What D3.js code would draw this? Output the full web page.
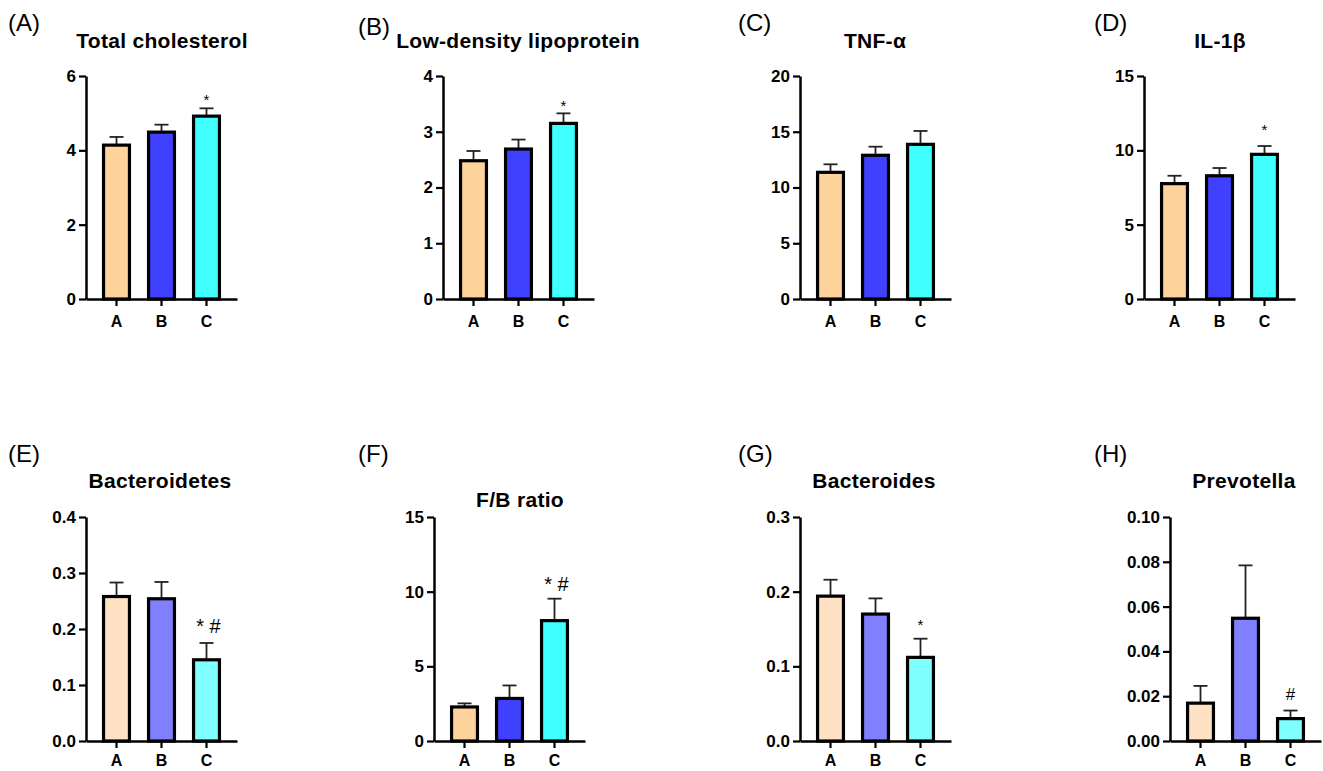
<!DOCTYPE html>
<html>
<head>
<meta charset="utf-8">
<script src="https://d3js.org/d3.v7.min.js"></script>
<style>
  body { margin: 0; background: #fff; }
  text { font-family: "Liberation Sans", Arial, sans-serif; fill: #000; }
</style>
</head>
<body>
<div id="chart"></div>
<script>

// groups and panel labels
var groups = ["A", "B", "C"];
var letters = ["(A)", "(B)", "(C)", "(D)", "(E)", "(F)", "(G)", "(H)"];
var titles = ["Total cholesterol", "Low-density lipoprotein", "TNF-\u03b1", "IL-1\u03b2",
              "Bacteroidetes", "F/B ratio", "Bacteroides", "Prevotella"];

// y axes
var yMax = [6, 4, 20, 15, 0.4, 15, 0.3, 0.1];
var yTicks = [
  [0, 2, 4, 6],
  [0, 1, 2, 3, 4],
  [0, 5, 10, 15, 20],
  [0, 5, 10, 15],
  [0, 0.1, 0.2, 0.3, 0.4],
  [0, 5, 10, 15],
  [0, 0.1, 0.2, 0.3],
  [0, 0.02, 0.04, 0.06, 0.08, 0.10]
];
var yFormat = ["d", "d", "d", "d", ".1f", "d", ".1f", ".2f"];

// bar means and error (SEM, drawn upwards)
var means = [
  [4.14, 4.49, 4.92],
  [2.48, 2.69, 3.15],
  [11.36, 12.89, 13.87],
  [7.76, 8.29, 9.73],
  [0.258, 0.254, 0.145],
  [2.28, 2.85, 8.06],
  [0.194, 0.170, 0.112],
  [0.0169, 0.0548, 0.0100]
];
var sems = [
  [0.22, 0.20, 0.21],
  [0.175, 0.17, 0.18],
  [0.72, 0.77, 1.20],
  [0.53, 0.52, 0.56],
  [0.025, 0.030, 0.030],
  [0.24, 0.87, 1.47],
  [0.022, 0.021, 0.025],
  [0.0077, 0.0236, 0.0036]
];

// significance marks over group C
var marks = ["*", "*", "", "*", "* #", "* #", "*", "#"];
var markAt = [5.46, 3.54, 0, 11.64, 0.205, 10.51, 0.161, 0.0209];

var darkColors = ["#FFD39C", "#4040FF", "#40FFFF"];
var lightColors = ["#FFE1C4", "#8080FF", "#80FFFF"];
var usesLight = [false, false, false, false, true, false, true, true];

// layout of the 2x4 grid
var axisX = [86, 443, 800, 1144, 86, 434, 800, 1170];
var rowTop = [76, 517], rowZero = [299, 741], rowPad = [10, 7];
var titleX = [162, 518, 875, 1220, 160, 520, 874, 1244];
var titleY = [48, 48, 48, 48, 488, 507, 488, 488];
var letterX = [8, 358, 738, 1094, 8, 358, 738, 1094];
var letterY = [31, 35, 31, 31, 462, 462, 462, 462];
var axisLen = 151;

var svg = d3.select("#chart").append("svg")
    .attr("width", 1323)
    .attr("height", 771);

titles.forEach(function(title, p) {
  var row = p < 4 ? 0 : 1;
  var g = svg.append("g")
      .attr("transform", "translate(" + axisX[p] + ",0)");

  var x = d3.scaleBand()
      .domain(groups)
      .range([0, axisLen])
      .paddingInner(0.38)
      .paddingOuter(0.368);

  var y = d3.scaleLinear()
      .domain([0, yMax[p]])
      .range([rowZero[row], rowTop[row]]);

  var colors = usesLight[p] ? lightColors : darkColors;
  var data = groups.map(function(k, i) {
    return { key: k, mean: means[p][i], sem: sems[p][i], color: colors[i] };
  });

  // error bars first, bars drawn over their lower part
  var eb = g.append("g").selectAll("g")
      .data(data)
    .enter().append("g");
  eb.append("line")
      .attr("x1", function(d) { return x(d.key) + x.bandwidth() / 2; })
      .attr("x2", function(d) { return x(d.key) + x.bandwidth() / 2; })
      .attr("y1", function(d) { return y(d.mean); })
      .attr("y2", function(d) { return y(d.mean + d.sem); })
      .attr("stroke", "#222")
      .attr("stroke-width", 1.8);
  eb.append("line")
      .attr("x1", function(d) { return x(d.key) + x.bandwidth() / 2 - 7; })
      .attr("x2", function(d) { return x(d.key) + x.bandwidth() / 2 + 7; })
      .attr("y1", function(d) { return y(d.mean + d.sem); })
      .attr("y2", function(d) { return y(d.mean + d.sem); })
      .attr("stroke", "#222")
      .attr("stroke-width", 1.8);

  g.append("g").selectAll("rect")
      .data(data)
    .enter().append("rect")
      .attr("x", function(d) { return x(d.key) + 1; })
      .attr("width", x.bandwidth() - 2)
      .attr("y", function(d) { return y(d.mean); })
      .attr("height", function(d) { return y(0) - y(d.mean); })
      .attr("fill", function(d) { return d.color; })
      .attr("stroke", "#000")
      .attr("stroke-width", 3.2);

  // y axis
  var yAxis = g.append("g")
      .call(d3.axisLeft(y).tickValues(yTicks[p]).tickFormat(d3.format(yFormat[p]))
            .tickSize(7).tickSizeOuter(0).tickPadding(3));
  // x axis
  var xAxis = g.append("g")
      .attr("transform", "translate(0," + rowZero[row] + ")")
      .call(d3.axisBottom(x).tickSize(7).tickSizeOuter(0).tickPadding(rowPad[row]));

  [yAxis, xAxis].forEach(function(a) {
    a.select(".domain").attr("stroke", "#000").attr("stroke-width", 2.5);
    a.selectAll(".tick line").attr("stroke", "#000").attr("stroke-width", 2.2);
    a.selectAll(".tick text")
        .style("font-family", "'Liberation Sans', Arial, sans-serif")
        .style("font-weight", "bold")
        .style("font-size", "16px")
        .attr("fill", "#000");
  });
  yAxis.selectAll(".tick text").style("font-size", "17px");

  // significance mark above group C
  if (marks[p]) {
    var big = marks[p].length > 1;
    var isHash = marks[p] === "#";
    var size = big ? 20 : (isHash ? 17 : 15);
    var dy = big ? 7 : (isHash ? 6 : 9);
    g.append("text")
        .attr("x", x("C") + x.bandwidth() / 2 + (big ? 2 : 0))
        .attr("y", y(markAt[p]) + dy)
        .attr("text-anchor", "middle")
        .style("font-size", size + "px")
        .text(marks[p]);
  }

  // title and panel letter
  svg.append("text")
      .attr("x", titleX[p])
      .attr("y", titleY[p])
      .attr("text-anchor", "middle")
      .style("font-size", "21px")
      .style("font-weight", "bold")
      .style("letter-spacing", "0.3px")
      .text(title);

  svg.append("text")
      .attr("x", letterX[p])
      .attr("y", letterY[p])
      .style("font-size", "24px")
      .text(letters[p]);
});

</script>
</body>
</html>
